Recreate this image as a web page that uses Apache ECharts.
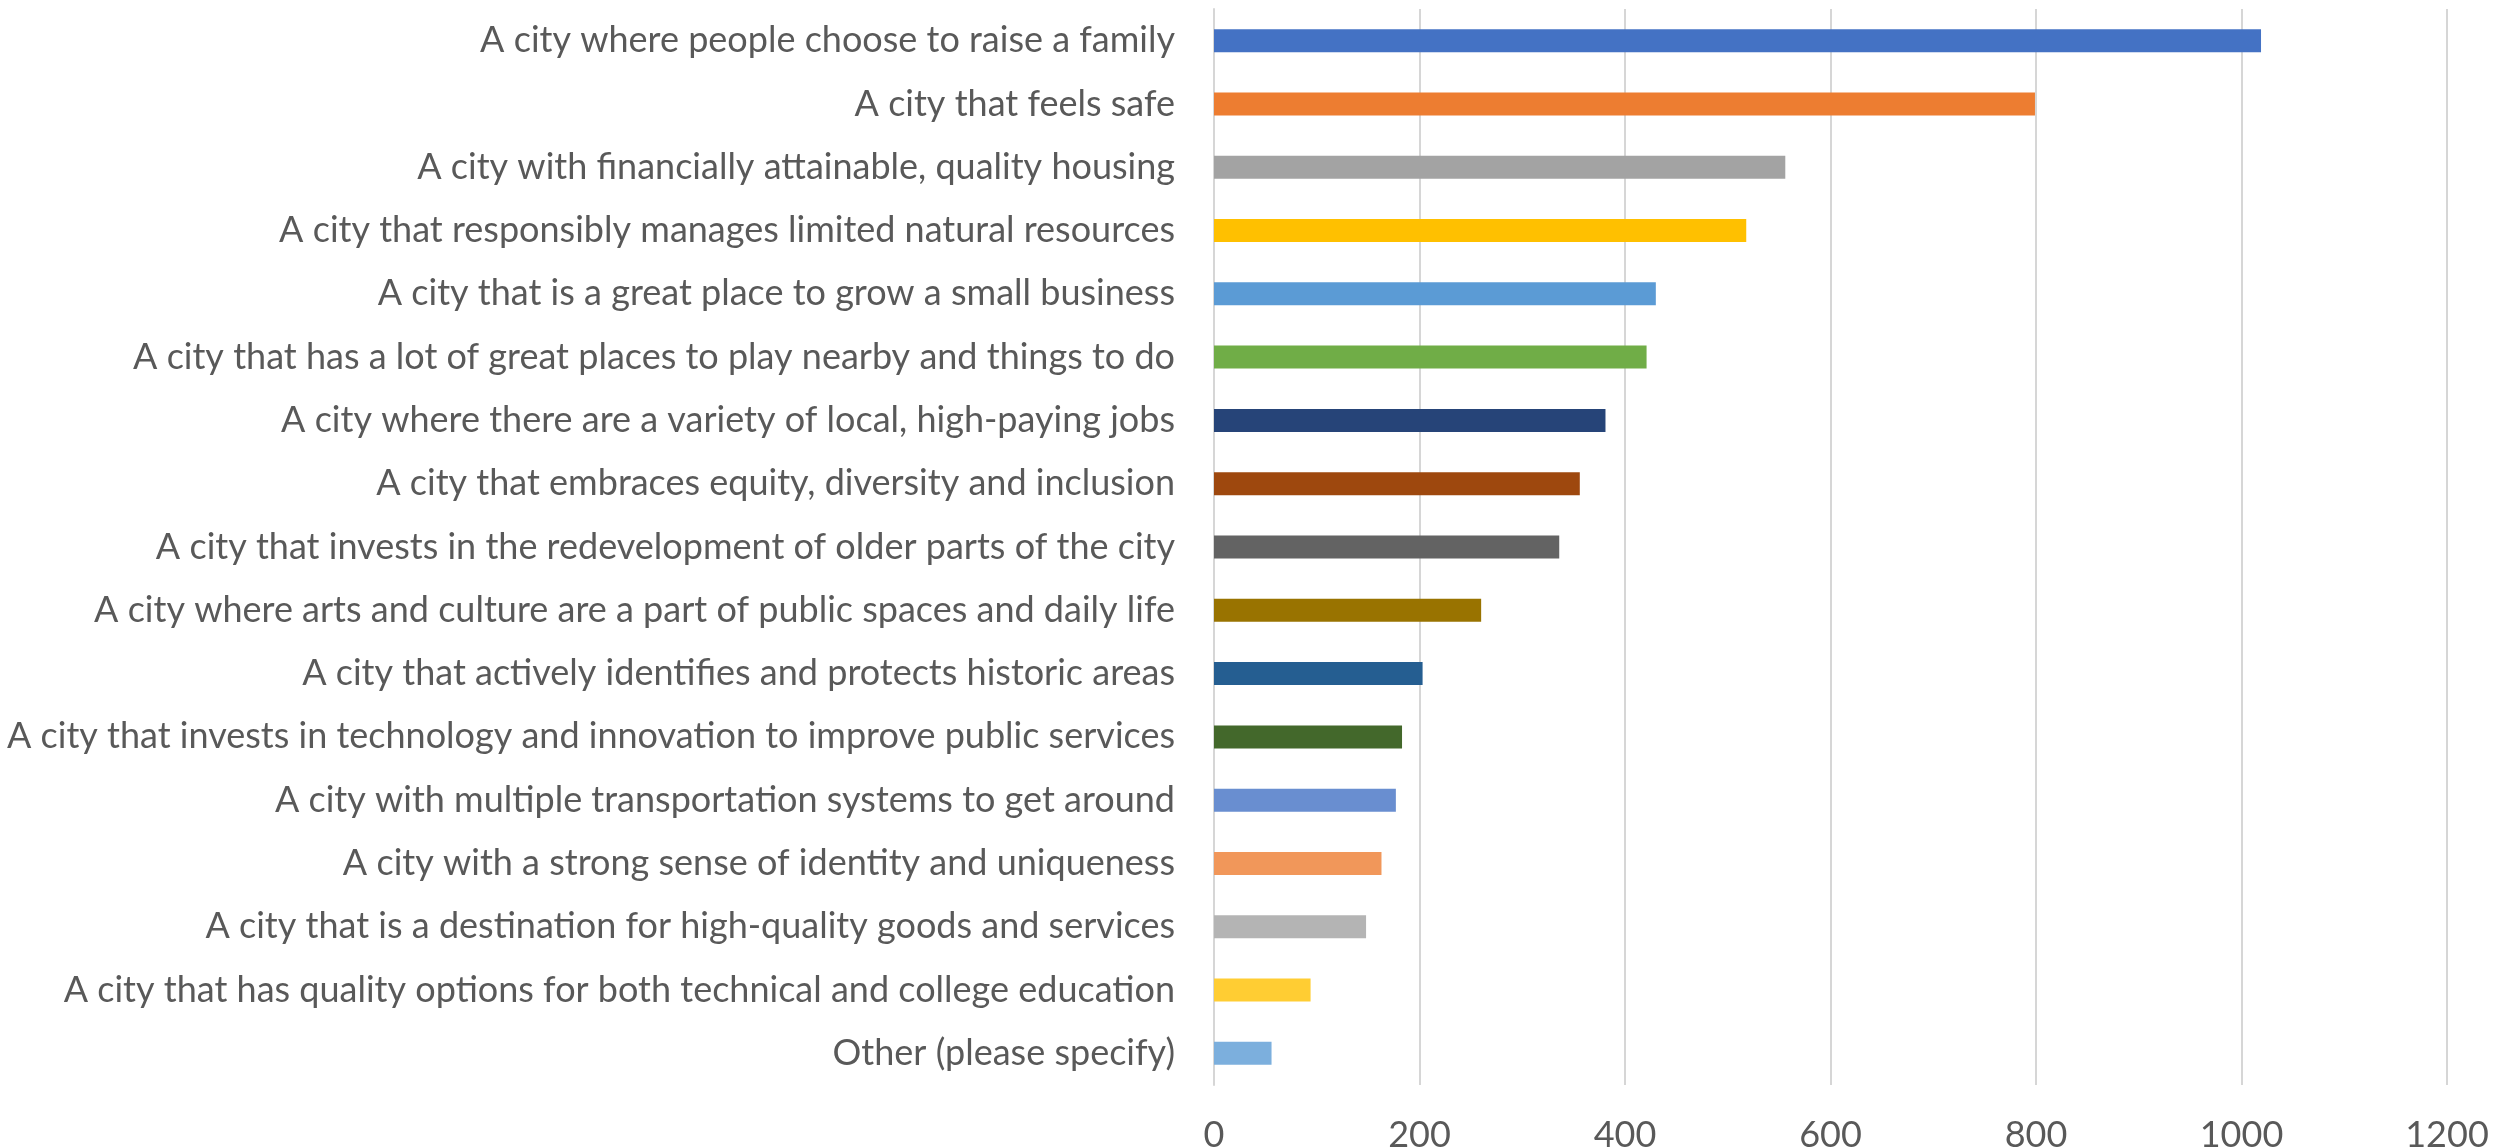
<!DOCTYPE html>
<html>
<head>
<meta charset="utf-8">
<script src="https://cdn.jsdelivr.net/npm/echarts@6/dist/echarts.min.js"></script>
<style>html,body{margin:0;padding:0;background:#fff;}#c{width:2506px;height:1147px;}</style>
</head>
<body>
<div id="c"></div>
<script>
const categories = [
  "A city where people choose to raise a family",
  "A city that feels safe",
  "A city with financially attainable, quality housing",
  "A city that responsibly manages limited natural resources",
  "A city that is a great place to grow a small business",
  "A city that has a lot of great places to play nearby and things to do",
  "A city where there are a variety of local, high-paying jobs",
  "A city that embraces equity, diversity and inclusion",
  "A city that invests in the redevelopment of older parts of the city",
  "A city where arts and culture are a part of public spaces and daily life",
  "A city that actively identifies and protects historic areas",
  "A city that invests in technology and innovation to improve public services",
  "A city with multiple transportation systems to get around",
  "A city with a strong sense of identity and uniqueness",
  "A city that is a destination for high-quality goods and services",
  "A city that has quality options for both technical and college education",
  "Other (please specify)"
];
const values = [1019, 799, 556, 518, 430, 421, 381, 356, 336, 260, 203, 183, 177, 163, 148, 94, 56];
const barColors = ["#4472C4","#ED7D31","#A3A3A3","#FFC000","#5B9BD5","#70AD47","#264478","#9E480E","#636363","#997300","#255E91","#43682B","#698ED0","#F1975A","#B4B4B4","#FFCD33","#7CAFDD"];
const xTicks = [0, 200, 400, 600, 800, 1000, 1200];

const chart = echarts.init(document.getElementById('c'), null, {renderer: 'canvas'});
const FONT = 'Lato';
chart.setOption({
  animation: false,
  backgroundColor: '#ffffff',
  grid: {left: 1214, right: 59, top: 9, bottom: 62, containLabel: false, outerBoundsMode: 'none'},
  xAxis: {
    type: 'value',
    min: xTicks[0],
    max: xTicks[xTicks.length - 1],
    interval: xTicks[1] - xTicks[0],
    axisLine: {show: false},
    axisTick: {show: false},
    splitLine: {show: true, lineStyle: {color: '#d6d6d6', width: 2}},
    axisLabel: {color: '#595959', fontFamily: FONT, fontSize: 36, margin: 32,
      formatter: v => String(v)}
  },
  yAxis: {
    type: 'category',
    data: categories,
    inverse: true,
    axisLine: {show: true, lineStyle: {color: '#d6d6d6', width: 2}},
    axisTick: {show: false},
    axisLabel: {color: '#595959', fontFamily: FONT, fontSize: 36, margin: 39}
  },
  series: [{
    type: 'bar',
    barWidth: 23,
    data: values.map((v, i) => ({value: v, itemStyle: {color: barColors[i]}}))
  }]
});
</script>
</body>
</html>
